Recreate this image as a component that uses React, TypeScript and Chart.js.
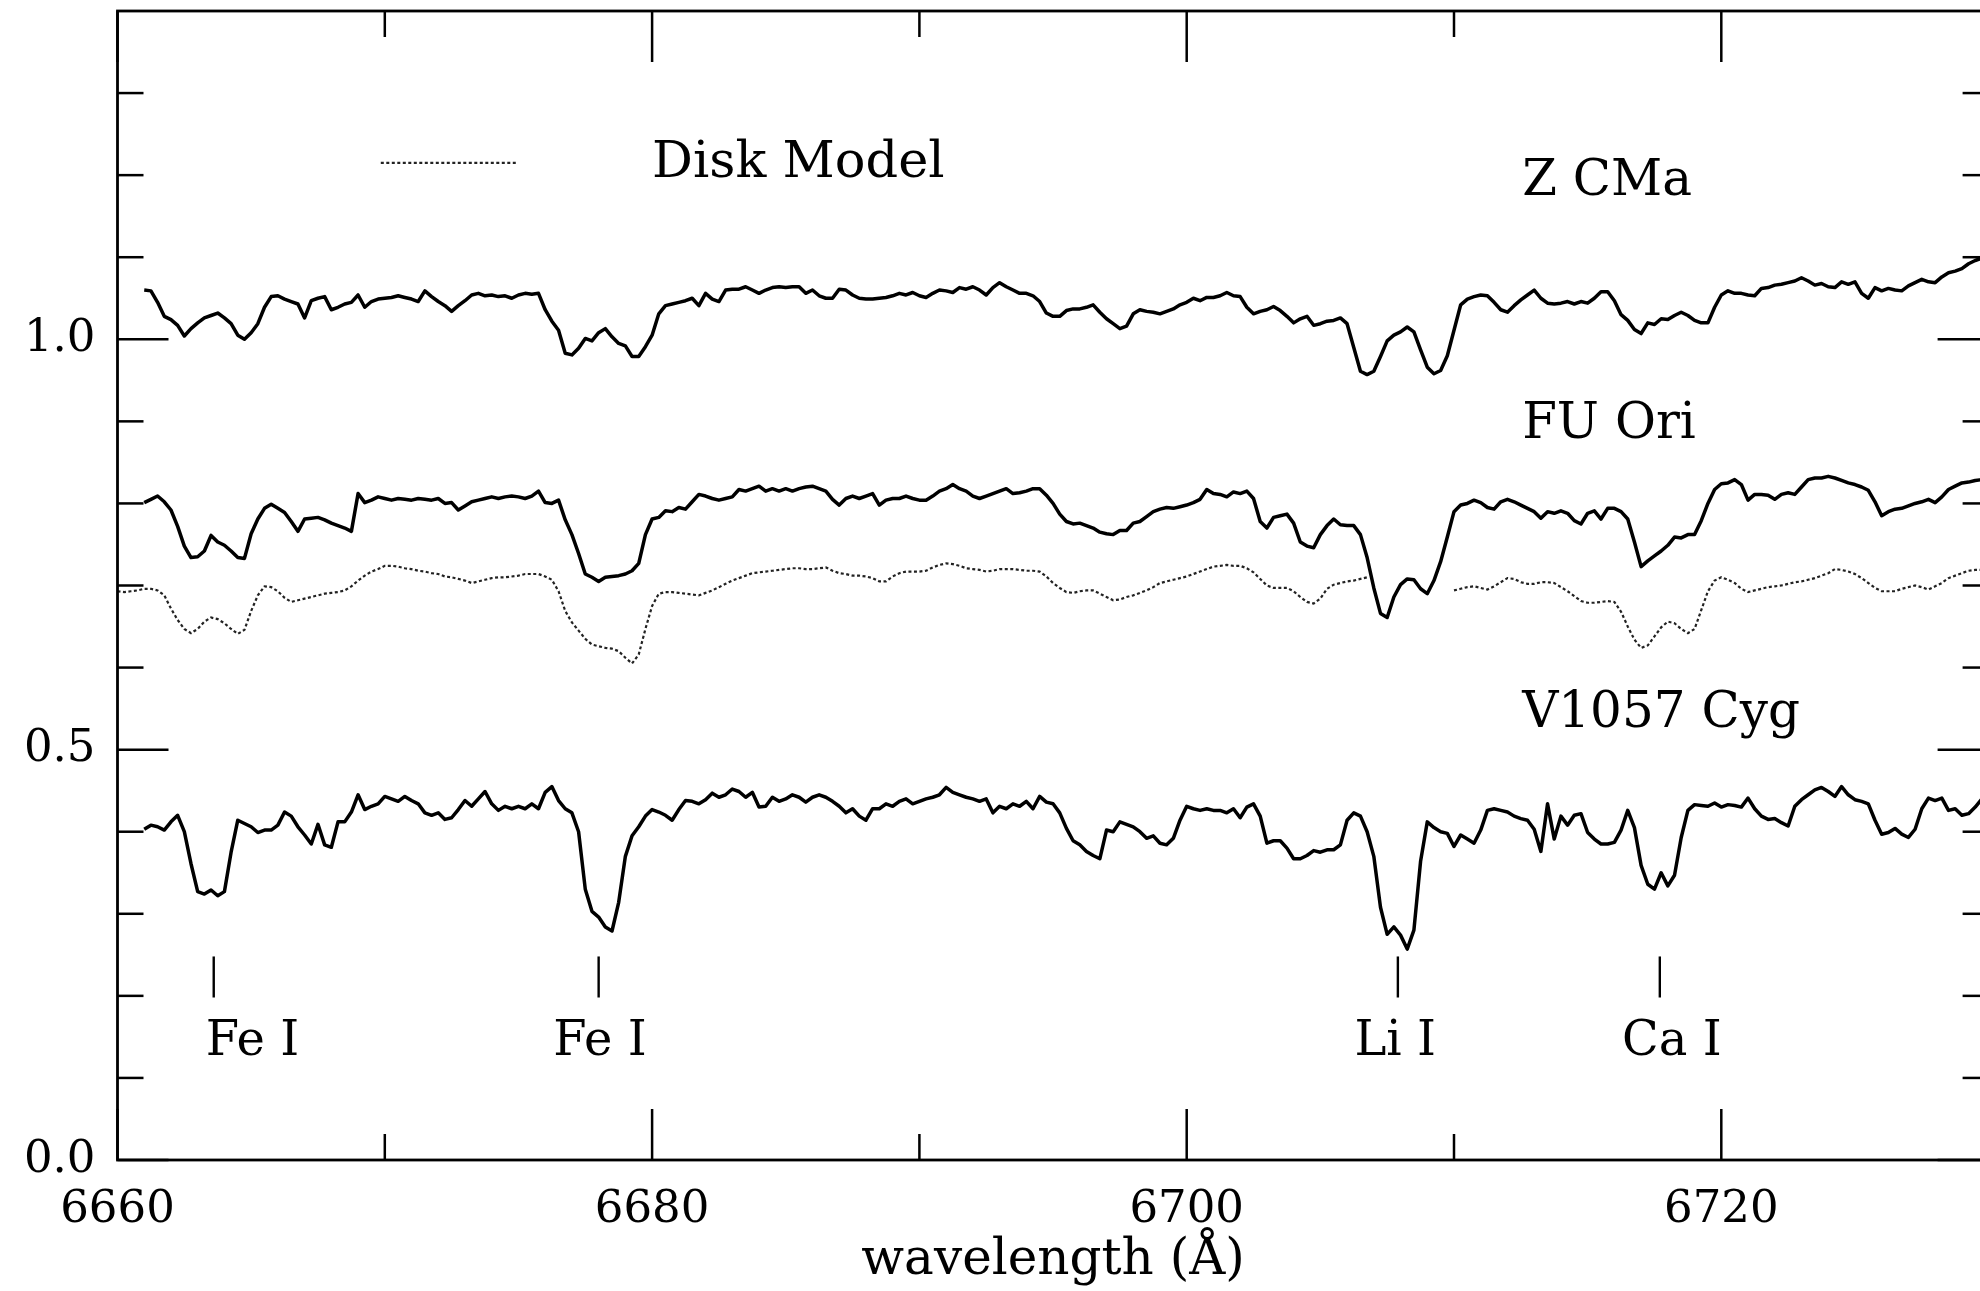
import React, { useEffect, useRef } from 'react';
import { Chart, registerables } from 'chart.js';

Chart.register(...registerables);

// ---------------- data ----------------
// sampling grid of the digitised spectra (Å)
const spectraStart = 6661.0;
const diskStart = 6660.0;
const sampleStep = 0.25;

// Z CMa, 6661.00 .. 6730.00 Å (4 samples per Å)
const zCMa = [
  1.060, 1.059, 1.045, 1.028, 1.024, 1.017, 1.004, 1.013, 1.020, 1.026, 1.029, 1.032,
  1.026, 1.019, 1.005, 1.000, 1.008, 1.019, 1.039, 1.052, 1.053, 1.049, 1.046, 1.043,
  1.026, 1.047, 1.050, 1.052, 1.036, 1.039, 1.043, 1.045, 1.054, 1.039, 1.046, 1.049,
  1.050, 1.051, 1.053, 1.051, 1.049, 1.046, 1.059, 1.052, 1.046, 1.041, 1.034, 1.041,
  1.047, 1.054, 1.056, 1.053, 1.054, 1.052, 1.053, 1.050, 1.054, 1.056, 1.055, 1.056,
  1.036, 1.022, 1.011, 0.983, 0.981, 0.989, 1.001, 0.998, 1.008, 1.013, 1.003, 0.995,
  0.992, 0.979, 0.979, 0.991, 1.005, 1.031, 1.041, 1.043, 1.045, 1.047, 1.050, 1.041,
  1.056, 1.049, 1.046, 1.060, 1.061, 1.061, 1.064, 1.060, 1.056, 1.060, 1.063, 1.064,
  1.063, 1.064, 1.064, 1.056, 1.060, 1.053, 1.050, 1.050, 1.061, 1.060, 1.054, 1.050,
  1.049, 1.049, 1.050, 1.051, 1.053, 1.056, 1.054, 1.057, 1.053, 1.051, 1.056, 1.060,
  1.059, 1.057, 1.063, 1.061, 1.064, 1.060, 1.054, 1.063, 1.069, 1.064, 1.060, 1.056,
  1.056, 1.053, 1.046, 1.032, 1.028, 1.028, 1.035, 1.037, 1.037, 1.039, 1.042, 1.033,
  1.025, 1.019, 1.013, 1.016, 1.031, 1.036, 1.034, 1.033, 1.031, 1.034, 1.037, 1.042,
  1.045, 1.050, 1.047, 1.051, 1.051, 1.053, 1.057, 1.053, 1.052, 1.039, 1.031, 1.034,
  1.036, 1.040, 1.035, 1.028, 1.020, 1.025, 1.028, 1.017, 1.019, 1.022, 1.023, 1.026,
  1.019, 0.990, 0.961, 0.957, 0.961, 0.979, 0.998, 1.005, 1.009, 1.015, 1.009, 0.987,
  0.966, 0.958, 0.962, 0.980, 1.011, 1.042, 1.049, 1.052, 1.054, 1.053, 1.045, 1.036,
  1.033, 1.041, 1.048, 1.054, 1.060, 1.050, 1.044, 1.043, 1.044, 1.046, 1.043, 1.046,
  1.044, 1.050, 1.058, 1.058, 1.047, 1.030, 1.023, 1.012, 1.007, 1.020, 1.018, 1.025,
  1.024, 1.029, 1.033, 1.029, 1.023, 1.020, 1.020, 1.039, 1.054, 1.059, 1.056, 1.056,
  1.054, 1.053, 1.062, 1.063, 1.066, 1.067, 1.069, 1.071, 1.075, 1.071, 1.066, 1.068,
  1.064, 1.063, 1.070, 1.067, 1.070, 1.056, 1.050, 1.063, 1.059, 1.062, 1.060, 1.059,
  1.065, 1.069, 1.073, 1.070, 1.069, 1.076, 1.081, 1.083, 1.086, 1.092, 1.096, 1.099,
  1.100,
];

// FU Ori, 6661.00 .. 6730.00 Å
const fuOri = [
  0.801, 0.805, 0.809, 0.802, 0.792, 0.772, 0.748, 0.734, 0.735, 0.742, 0.761, 0.753,
  0.749, 0.742, 0.734, 0.733, 0.763, 0.781, 0.794, 0.799, 0.794, 0.789, 0.778, 0.766,
  0.781, 0.782, 0.783, 0.780, 0.776, 0.773, 0.770, 0.766, 0.812, 0.801, 0.804, 0.808,
  0.806, 0.804, 0.806, 0.805, 0.804, 0.806, 0.805, 0.804, 0.806, 0.800, 0.801, 0.792,
  0.797, 0.802, 0.804, 0.806, 0.808, 0.806, 0.808, 0.809, 0.808, 0.806, 0.809, 0.815,
  0.801, 0.800, 0.804, 0.780, 0.762, 0.739, 0.714, 0.710, 0.705, 0.710, 0.711, 0.712,
  0.714, 0.718, 0.727, 0.762, 0.781, 0.783, 0.791, 0.790, 0.795, 0.793, 0.802, 0.811,
  0.809, 0.806, 0.804, 0.806, 0.808, 0.817, 0.815, 0.818, 0.821, 0.815, 0.818, 0.815,
  0.818, 0.815, 0.818, 0.820, 0.821, 0.818, 0.815, 0.805, 0.798, 0.806, 0.809, 0.806,
  0.809, 0.812, 0.798, 0.804, 0.806, 0.806, 0.809, 0.806, 0.804, 0.804, 0.809, 0.815,
  0.818, 0.823, 0.818, 0.815, 0.809, 0.806, 0.809, 0.812, 0.815, 0.818, 0.812, 0.813,
  0.815, 0.818, 0.818, 0.810, 0.800, 0.787, 0.778, 0.775, 0.776, 0.773, 0.770, 0.765,
  0.763, 0.762, 0.767, 0.767, 0.776, 0.778, 0.784, 0.790, 0.793, 0.795, 0.794, 0.796,
  0.798, 0.801, 0.805, 0.817, 0.812, 0.811, 0.808, 0.814, 0.812, 0.815, 0.806, 0.778,
  0.770, 0.783, 0.785, 0.787, 0.776, 0.753, 0.748, 0.746, 0.762, 0.773, 0.781, 0.774,
  0.773, 0.773, 0.762, 0.734, 0.697, 0.666, 0.661, 0.686, 0.701, 0.708, 0.707, 0.696,
  0.690, 0.706, 0.729, 0.759, 0.790, 0.798, 0.800, 0.804, 0.801, 0.795, 0.793, 0.802,
  0.805, 0.802, 0.798, 0.794, 0.790, 0.782, 0.790, 0.788, 0.791, 0.788, 0.779, 0.775,
  0.788, 0.791, 0.781, 0.794, 0.794, 0.790, 0.781, 0.753, 0.723, 0.730, 0.736, 0.742,
  0.749, 0.759, 0.758, 0.762, 0.762, 0.779, 0.800, 0.817, 0.824, 0.825, 0.829, 0.823,
  0.804, 0.811, 0.811, 0.810, 0.805, 0.811, 0.813, 0.811, 0.820, 0.829, 0.831, 0.831,
  0.833, 0.831, 0.828, 0.825, 0.823, 0.820, 0.816, 0.802, 0.785, 0.790, 0.793, 0.794,
  0.797, 0.800, 0.802, 0.805, 0.801, 0.808, 0.817, 0.821, 0.825, 0.826, 0.828, 0.829,
  0.830,
];

// Disk model, 6660.00 .. 6730.00 Å (no model across the Li I line)
const diskModel = [
  0.693, 0.692, 0.693, 0.694, 0.696, 0.696, 0.694, 0.688, 0.672, 0.658, 0.647, 0.642,
  0.647, 0.656, 0.661, 0.659, 0.654, 0.647, 0.641, 0.646, 0.669, 0.688, 0.699, 0.698,
  0.693, 0.685, 0.680, 0.682, 0.684, 0.686, 0.688, 0.690, 0.691, 0.692, 0.694, 0.699,
  0.706, 0.712, 0.717, 0.720, 0.724, 0.724, 0.723, 0.721, 0.720, 0.718, 0.717, 0.715,
  0.714, 0.711, 0.710, 0.708, 0.706, 0.703, 0.705, 0.707, 0.709, 0.710, 0.710, 0.711,
  0.712, 0.714, 0.714, 0.714, 0.711, 0.707, 0.693, 0.669, 0.655, 0.645, 0.635, 0.628,
  0.626, 0.624, 0.623, 0.620, 0.612, 0.605, 0.616, 0.647, 0.675, 0.690, 0.692, 0.692,
  0.691, 0.690, 0.689, 0.688, 0.691, 0.694, 0.698, 0.702, 0.706, 0.709, 0.712, 0.715,
  0.716, 0.717, 0.718, 0.719, 0.720, 0.721, 0.721, 0.720, 0.720, 0.721, 0.722, 0.718,
  0.715, 0.714, 0.712, 0.712, 0.711, 0.709, 0.705, 0.705, 0.711, 0.715, 0.717, 0.717,
  0.717, 0.718, 0.722, 0.725, 0.727, 0.726, 0.724, 0.721, 0.720, 0.719, 0.717, 0.718,
  0.720, 0.720, 0.720, 0.719, 0.718, 0.718, 0.717, 0.711, 0.703, 0.697, 0.692, 0.691,
  0.693, 0.694, 0.694, 0.690, 0.686, 0.682, 0.683, 0.686, 0.688, 0.691, 0.694, 0.698,
  0.703, 0.705, 0.707, 0.709, 0.711, 0.714, 0.717, 0.720, 0.723, 0.724, 0.725, 0.724,
  0.724, 0.721, 0.716, 0.708, 0.700, 0.697, 0.697, 0.697, 0.693, 0.686, 0.680, 0.678,
  0.684, 0.696, 0.701, 0.703, 0.705, 0.706, 0.708, 0.710,
  null, null, null, null, null, null, null, null, null, null, null, null,
  0.694, 0.696, 0.698, 0.699, 0.697, 0.695, 0.699, 0.704,
  0.709, 0.708, 0.704, 0.702, 0.702, 0.704, 0.704, 0.703, 0.698, 0.693, 0.687, 0.681,
  0.679, 0.679, 0.680, 0.681, 0.680, 0.668, 0.650, 0.634, 0.624, 0.627, 0.638, 0.649,
  0.656, 0.654, 0.647, 0.642, 0.647, 0.670, 0.693, 0.706, 0.710, 0.707, 0.703, 0.696,
  0.692, 0.694, 0.696, 0.698, 0.699, 0.700, 0.702, 0.704, 0.705, 0.707, 0.709, 0.712,
  0.715, 0.720, 0.719, 0.717, 0.714, 0.709, 0.703, 0.697, 0.693, 0.693, 0.693, 0.696,
  0.698, 0.700, 0.698, 0.695, 0.699, 0.703, 0.709, 0.712, 0.715, 0.718, 0.719, 0.719,
  0.720,
];

// V1057 Cyg, 6661.00 .. 6730.00 Å
const v1057Cyg = [
  0.403, 0.408, 0.406, 0.402, 0.412, 0.420, 0.400, 0.361, 0.327, 0.324, 0.329, 0.322,
  0.327, 0.375, 0.414, 0.410, 0.406, 0.399, 0.402, 0.402, 0.408, 0.424, 0.419, 0.406,
  0.396, 0.385, 0.409, 0.384, 0.381, 0.412, 0.412, 0.424, 0.445, 0.427, 0.431, 0.434,
  0.443, 0.440, 0.437, 0.443, 0.438, 0.434, 0.423, 0.420, 0.423, 0.415, 0.417, 0.427,
  0.438, 0.431, 0.440, 0.449, 0.434, 0.426, 0.431, 0.428, 0.431, 0.428, 0.434, 0.428,
  0.448, 0.455, 0.438, 0.428, 0.423, 0.400, 0.330, 0.303, 0.296, 0.284, 0.279, 0.314,
  0.370, 0.395, 0.406, 0.419, 0.427, 0.424, 0.420, 0.414, 0.427, 0.438, 0.437, 0.434,
  0.439, 0.447, 0.442, 0.445, 0.452, 0.449, 0.442, 0.448, 0.430, 0.431, 0.442, 0.437,
  0.440, 0.445, 0.442, 0.436, 0.442, 0.445, 0.442, 0.437, 0.431, 0.423, 0.428, 0.419,
  0.414, 0.428, 0.428, 0.434, 0.431, 0.437, 0.440, 0.434, 0.437, 0.440, 0.442, 0.445,
  0.454, 0.448, 0.445, 0.442, 0.440, 0.437, 0.440, 0.423, 0.431, 0.428, 0.434, 0.431,
  0.437, 0.428, 0.443, 0.436, 0.434, 0.423, 0.404, 0.389, 0.384, 0.376, 0.371, 0.367,
  0.402, 0.400, 0.412, 0.409, 0.406, 0.400, 0.392, 0.395, 0.386, 0.384, 0.392, 0.414,
  0.431, 0.428, 0.426, 0.428, 0.426, 0.426, 0.423, 0.428, 0.417, 0.430, 0.434, 0.419,
  0.386, 0.389, 0.389, 0.380, 0.367, 0.367, 0.371, 0.377, 0.375, 0.378, 0.378, 0.384,
  0.414, 0.423, 0.419, 0.400, 0.370, 0.308, 0.275, 0.284, 0.274, 0.257, 0.280, 0.364,
  0.412, 0.405, 0.400, 0.398, 0.382, 0.396, 0.391, 0.386, 0.402, 0.426, 0.428, 0.426,
  0.424, 0.419, 0.416, 0.414, 0.403, 0.376, 0.434, 0.391, 0.419, 0.408, 0.420, 0.422,
  0.399, 0.391, 0.385, 0.385, 0.387, 0.402, 0.426, 0.405, 0.359, 0.336, 0.330, 0.350,
  0.334, 0.347, 0.393, 0.426, 0.433, 0.432, 0.431, 0.435, 0.430, 0.433, 0.432, 0.430,
  0.441, 0.428, 0.419, 0.415, 0.416, 0.411, 0.407, 0.431, 0.439, 0.445, 0.451, 0.454,
  0.449, 0.443, 0.455, 0.445, 0.439, 0.437, 0.434, 0.414, 0.397, 0.399, 0.404, 0.397,
  0.393, 0.403, 0.428, 0.441, 0.438, 0.441, 0.426, 0.428, 0.420, 0.422, 0.430, 0.440,
  0.440,
];

const seriesNames = ['Z CMa', 'FU Ori', 'Disk Model', 'V1057 Cyg'];

// axes
const xTickLabels = [6660, 6680, 6700, 6720];
const xMinorTicks = [6670, 6690, 6710, 6730];
const yTickLabels = [0.0, 0.5, 1.0];
const yMinorTicks = [0.1, 0.2, 0.3, 0.4, 0.6, 0.7, 0.8, 0.9, 1.1, 1.2, 1.3];

// identified absorption lines
const lineIds = ['Fe I', 'Fe I', 'Li I', 'Ca I'];
const lineWavelengths = [6663.6, 6678.0, 6707.9, 6717.7];

// ---------------- layout of annotations (data coordinates) ----------------
const lineLabelCenters = [6665.05, 6678.05, 6707.8, 6718.15];
const lineMarkRange = [0.198, 0.248];
const lineLabelBaseline = 0.128;
const starLabelX = 6712.55;
const starLabelBaselines: Record<string, number> = { 'Z CMa': 1.176, 'FU Ori': 0.880, 'V1057 Cyg': 0.528 };
const legendSample = { x0: 6669.85, x1: 6674.9, y: 1.215 };
const legendText = { x: 6680.0, baseline: 1.198 };

const FONT = '"DejaVu Serif", serif';

const toPoints = (start: number, vals: (number | null)[]) =>
  vals.map((v, i) => ({ x: start + i * sampleStep, y: v }));

const annotationPlugin = {
  id: 'spectrumAnnotations',
  afterDraw(chart: any) {
    const { ctx, chartArea: a, scales } = chart;
    const xs = scales.x;
    const ys = scales.y;
    const px = (v: number) => xs.getPixelForValue(v);
    const py = (v: number) => ys.getPixelForValue(v);
    ctx.save();
    ctx.strokeStyle = '#000';
    ctx.fillStyle = '#000';
    ctx.lineCap = 'butt';
    // frame
    ctx.lineWidth = 2.8;
    ctx.strokeRect(a.left, a.top, a.right - a.left, a.bottom - a.top);
    // ticks (inward, all four sides)
    ctx.lineWidth = 2.5;
    const seg = (x1: number, y1: number, x2: number, y2: number) => {
      ctx.beginPath();
      ctx.moveTo(x1, y1);
      ctx.lineTo(x2, y2);
      ctx.stroke();
    };
    const MAJ = 51;
    const MIN = 26;
    xTickLabels.forEach((v) => {
      const p = px(v);
      seg(p, a.bottom, p, a.bottom - MAJ);
      seg(p, a.top, p, a.top + MAJ);
    });
    xMinorTicks.forEach((v) => {
      const p = px(v);
      seg(p, a.bottom, p, a.bottom - MIN);
      seg(p, a.top, p, a.top + MIN);
    });
    yTickLabels.forEach((v) => {
      const p = py(v);
      seg(a.left, p, a.left + MAJ, p);
      seg(a.right, p, a.right - MAJ, p);
    });
    yMinorTicks.forEach((v) => {
      const p = py(v);
      seg(a.left, p, a.left + MIN, p);
      seg(a.right, p, a.right - MIN, p);
    });

    // line identification marks
    ctx.lineWidth = 2.4;
    lineWavelengths.forEach((w) => {
      seg(px(w), py(lineMarkRange[0]), px(w), py(lineMarkRange[1]));
    });
    ctx.font = `48px ${FONT}`;
    ctx.textBaseline = 'alphabetic';
    ctx.textAlign = 'center';
    lineIds.forEach((id, i) => {
      ctx.fillText(id, px(lineLabelCenters[i]), py(lineLabelBaseline));
    });

    // star names
    ctx.font = `50px ${FONT}`;
    ctx.textAlign = 'left';
    ['Z CMa', 'FU Ori', 'V1057 Cyg'].forEach((name) => {
      ctx.fillText(name, px(starLabelX), py(starLabelBaselines[name]));
    });

    // legend
    ctx.strokeStyle = '#222';
    ctx.lineWidth = 2.2;
    ctx.setLineDash([3, 2.5]);
    seg(px(legendSample.x0), py(legendSample.y), px(legendSample.x1), py(legendSample.y));
    ctx.setLineDash([]);
    ctx.font = `51px ${FONT}`;
    ctx.fillText(seriesNames[2], px(legendText.x), py(legendText.baseline));
    ctx.restore();
  },
};

export default function App() {
  const ref = useRef<HTMLCanvasElement>(null);

  useEffect(() => {
    if (!ref.current) return;
    const solid = {
      borderColor: '#000',
      borderWidth: 3.5,
      pointRadius: 0,
      tension: 0,
      fill: false,
      borderJoinStyle: 'round' as const,
    };
    const chart = new Chart(ref.current, {
      type: 'line',
      data: {
        datasets: [
          { label: seriesNames[0], data: toPoints(spectraStart, zCMa), ...solid },
          { label: seriesNames[1], data: toPoints(spectraStart, fuOri), ...solid },
          {
            label: seriesNames[2],
            data: toPoints(diskStart, diskModel),
            borderColor: '#222',
            borderWidth: 2.2,
            borderDash: [3, 2.5],
            pointRadius: 0,
            tension: 0,
            fill: false,
            spanGaps: false,
          },
          { label: seriesNames[3], data: toPoints(spectraStart, v1057Cyg), ...solid },
        ],
      },
      options: {
        responsive: false,
        maintainAspectRatio: false,
        devicePixelRatio: 1,
        animation: false,
        events: [],
        layout: { padding: { left: 0, right: 11.4, top: 11, bottom: 0 } },
        plugins: { legend: { display: false }, tooltip: { enabled: false }, title: { display: false } },
        scales: {
          x: {
            type: 'linear',
            min: 6660,
            max: 6730,
            afterBuildTicks: (s: any) => {
              s.ticks = xTickLabels.map((v) => ({ value: v }));
            },
            afterFit: (s: any) => {
              s.height = 131;
              s.paddingLeft = 0;
              s.paddingRight = 0;
            },
            grid: { display: false, drawTicks: false },
            border: { display: false },
            ticks: {
              autoSkip: false,
              maxRotation: 0,
              padding: 23,
              color: '#000',
              font: { family: FONT, size: 45 },
              callback: (v: any) => String(v),
            },
            title: {
              display: true,
              text: 'wavelength (Å)',
              color: '#000',
              font: { family: FONT, size: 50 },
              padding: { top: 0, bottom: 0 },
            },
          },
          y: {
            type: 'linear',
            min: 0,
            max: 1.4,
            afterBuildTicks: (s: any) => {
              s.ticks = yTickLabels.map((v) => ({ value: v }));
            },
            afterFit: (s: any) => {
              s.width = 117.5;
              s.paddingTop = 0;
              s.paddingBottom = 0;
            },
            grid: { display: false, drawTicks: false },
            border: { display: false },
            ticks: {
              autoSkip: false,
              padding: 22,
              color: '#000',
              font: { family: FONT, size: 45 },
              callback: (v: any) => Number(v).toFixed(1),
            },
          },
        },
      } as any,
      plugins: [annotationPlugin],
    });
    return () => chart.destroy();
  }, []);

  return (
    <div
      style={{
        position: 'fixed',
        left: 0,
        top: 0,
        width: 1980,
        height: 1291,
        overflow: 'hidden',
        background: '#fff',
      }}
    >
      <canvas ref={ref} width={2000} height={1291} style={{ display: 'block', width: 2000, height: 1291 }} />
    </div>
  );
}
